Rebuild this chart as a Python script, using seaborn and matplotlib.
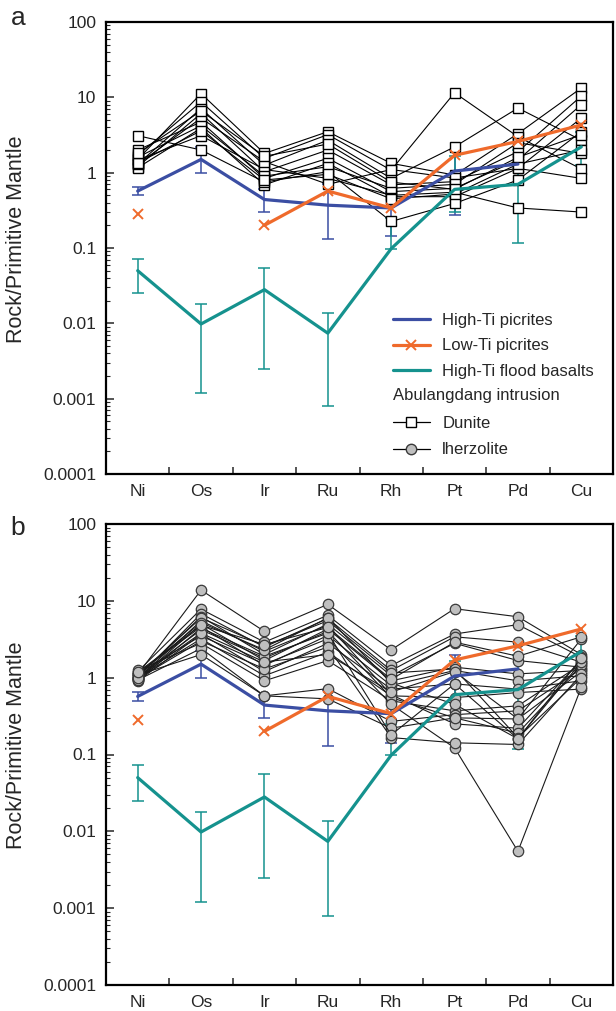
import numpy as np
import pandas as pd
import matplotlib
matplotlib.use("Agg")
import matplotlib.pyplot as plt
import seaborn as sns
from matplotlib.lines import Line2D
from matplotlib.ticker import LogLocator, NullFormatter

nan = np.nan

# ---------------- data ----------------
elements = ["Ni", "Os", "Ir", "Ru", "Rh", "Pt", "Pd", "Cu"]
ytick_values = [1e-4, 1e-3, 1e-2, 1e-1, 1, 10, 100]
ytick_labels = ["0.0001", "0.001", "0.01", "0.1", "1", "10", "100"]

high_ti_picrites = [0.57, 1.5, 0.44, 0.37, 0.34, 1.05, 1.3, nan]
high_ti_picrites_lo = [0.50, 0.98, 0.30, 0.13, 0.143, 0.276, nan, nan]
high_ti_picrites_hi = [0.65, 2.2, 0.60, 0.70, 0.55, 2.0, nan, nan]

low_ti_picrites = [0.28, nan, 0.20, 0.57, 0.34, 1.7, 2.6, 4.3]

flood_basalts = [0.05, 0.0098, 0.028, 0.0074, 0.098, 0.60, 0.70, 2.2]
flood_basalts_lo = [0.025, 0.0012, 0.0025, 0.0008, 0.098, 0.30, 0.118, 1.25]
flood_basalts_hi = [0.072, 0.018, 0.055, 0.0138, 0.25, 1.65, 2.0, 3.5]

# Abulangdang dunite samples (Ni, Os, Ir, Ru, Rh, Pt, Pd, Cu)
dunite = [
    [1.50, 11.2, 1.80, 3.50, 1.33, 0.93, 3.30, 13.3],
    [1.70, 8.70, 1.55, 3.20, 1.08, 11.5, 3.00, 1.12],
    [1.30, 7.10, 1.26, 2.70, 0.84, 2.20, 7.20, 2.70],
    [1.20, 6.10, 1.03, 2.00, 0.69, 0.76, 1.90, 10.4],
    [2.00, 4.70, 0.84, 1.55, 0.56, 0.62, 1.47, 8.00],
    [1.16, 3.90, 0.69, 1.33, 0.48, 0.48, 1.14, 5.30],
    [3.10, 2.00, 0.75, 1.03, 0.225, 0.39, 0.80, 3.50],
    [1.47, 3.10, 1.10, 0.84, 0.50, 0.55, 0.34, 0.30],
    [1.29, 5.30, 1.40, 0.70, 1.10, 0.85, 1.14, 0.84],
    [1.60, 4.20, 0.90, 1.20, 0.62, 0.70, 2.50, 1.80],
    [1.35, 3.60, 0.80, 0.95, 0.45, 0.52, 1.30, 2.00],
    [1.80, 6.60, 1.65, 2.40, 0.75, 0.60, 1.60, 3.20],
]

# Abulangdang lherzolite samples (Ni, Os, Ir, Ru, Rh, Pt, Pd, Cu)
lherzolite = [
    [1.10, 13.8, 4.00, 9.00, 2.30, 7.90, 6.20, 2.00],
    [1.20, 7.80, 2.90, 6.50, 1.44, 3.70, 4.90, 1.85],
    [1.00, 6.80, 2.50, 5.90, 1.24, 3.40, 2.90, 1.59],
    [1.05, 6.20, 2.00, 5.00, 1.06, 2.80, 1.67, 1.37],
    [0.95, 5.00, 1.67, 4.30, 0.91, 1.37, 1.12, 1.24],
    [1.15, 4.60, 1.44, 3.55, 0.79, 1.24, 0.91, 1.06],
    [0.90, 3.70, 1.20, 2.80, 0.71, 0.83, 0.71, 0.91],
    [1.00, 3.20, 1.06, 2.15, 0.58, 0.55, 0.64, 0.71],
    [1.25, 2.80, 0.91, 1.67, 0.50, 0.37, 0.43, 1.50],
    [0.93, 2.40, 0.58, 0.72, 0.27, 0.33, 0.37, 1.30],
    [1.08, 2.00, 0.58, 0.53, 0.22, 0.30, 0.29, 1.20],
    [0.98, 5.50, 2.20, 4.80, 0.60, 0.25, 0.22, 1.70],
    [1.02, 4.20, 1.80, 4.00, 0.55, 0.30, 0.19, 1.45],
    [1.12, 3.50, 1.50, 3.20, 0.45, 0.122, 0.0055, 0.75],
    [0.97, 3.00, 1.30, 2.50, 0.166, 0.142, 0.135, 1.10],
    [1.06, 6.00, 2.60, 5.50, 1.15, 1.30, 0.166, 1.00],
    [0.92, 4.40, 1.90, 3.80, 0.18, 0.83, 0.16, 1.60],
    [1.10, 5.20, 2.30, 6.00, 0.85, 0.45, 0.16, 1.80],
    [1.00, 3.80, 1.60, 2.00, 0.65, 1.20, 0.29, 3.20],
    [1.18, 4.80, 2.70, 4.50, 0.95, 2.90, 1.90, 3.40],
]

# ---------------- style ----------------
BLUE = "#3b4ea3"
ORANGE = "#ef6a2b"
TEAL = "#15928e"

sns.set_style("ticks")
plt.rcParams["font.family"] = ["Liberation Sans", "DejaVu Sans"]

pos = np.arange(len(elements))


def long_df(samples):
    rows = []
    for i, vals in enumerate(samples):
        for j, v in enumerate(vals):
            rows.append({"sample": i, "pos": pos[j], "value": v})
    return pd.DataFrame(rows)


def draw_errbars(ax, mean, lo, hi, color):
    mean = np.asarray(mean, float)
    lo = np.asarray(lo, float)
    hi = np.asarray(hi, float)
    m = np.isfinite(mean) & np.isfinite(lo) & np.isfinite(hi)
    ax.errorbar(pos[m], mean[m], yerr=[mean[m] - lo[m], hi[m] - mean[m]],
                fmt="none", ecolor=color, elinewidth=1.1, capsize=4.5,
                capthick=1.1, zorder=1)


def draw_panel(ax, samples, kind):
    draw_errbars(ax, high_ti_picrites, high_ti_picrites_lo, high_ti_picrites_hi, BLUE)
    draw_errbars(ax, flood_basalts, flood_basalts_lo, flood_basalts_hi, TEAL)

    df = long_df(samples)
    if kind == "dunite":
        sns.lineplot(data=df, x="pos", y="value", units="sample", estimator=None,
                     color="black", lw=0.8, marker="s", markersize=7.5,
                     markerfacecolor="white", markeredgecolor="black",
                     markeredgewidth=1.0, legend=False, ax=ax, zorder=2)
    else:
        sns.lineplot(data=df, x="pos", y="value", units="sample", estimator=None,
                     color="#1a1a1a", lw=0.8, marker="o", markersize=7.5,
                     markerfacecolor="#bfbfbf", markeredgecolor="#3a3a3a",
                     markeredgewidth=0.9, legend=False, ax=ax, zorder=2)

    ax.plot(pos, high_ti_picrites, color=BLUE, lw=2.3, zorder=4)
    ax.plot(pos, low_ti_picrites, color=ORANGE, lw=2.3, marker="x",
            markersize=7, markeredgewidth=1.4, zorder=4)
    ax.plot(pos, flood_basalts, color=TEAL, lw=2.3, zorder=4)

    ax.set_yscale("log")
    ax.set_ylim(1e-4, 100)
    ax.set_xlim(-0.5, len(elements) - 0.5)
    ax.set_yticks(ytick_values)
    ax.set_yticklabels(ytick_labels)
    ax.yaxis.set_minor_locator(LogLocator(base=10, subs=np.arange(2, 10), numticks=20))
    ax.yaxis.set_minor_formatter(NullFormatter())
    ax.set_xticks(pos)
    ax.set_xticklabels(elements)
    ax.set_xticks(pos[:-1] + 0.5, minor=True)
    ax.tick_params(axis="x", which="major", length=0, pad=7, labelsize=12.5)
    ax.tick_params(axis="x", which="minor", direction="in", length=5, width=1.1,
                   bottom=True, top=False)
    ax.tick_params(axis="y", which="major", direction="in", length=6, width=1.1,
                   pad=7, labelsize=12.5, left=True, right=False)
    ax.tick_params(axis="y", which="minor", direction="in", length=3, width=0.8,
                   left=True, right=False)
    for s in ax.spines.values():
        s.set_visible(True)
        s.set_linewidth(1.6)
        s.set_color("black")
    ax.set_xlabel("")
    ax.set_ylabel("Rock/Primitive Mantle", fontsize=15.5)
    ax.yaxis.set_label_coords(-0.155, 0.52)


fig = plt.figure(figsize=(6.16, 10.11), dpi=100)
ax_a = fig.add_axes([106 / 616, 1 - 474 / 1011, 507 / 616, 452 / 1011])
ax_b = fig.add_axes([106 / 616, 1 - 985 / 1011, 507 / 616, 461 / 1011])

draw_panel(ax_a, dunite, "dunite")
draw_panel(ax_b, lherzolite, "lherzolite")

# legend (panel a): mean lines
handles1 = [
    Line2D([], [], color=BLUE, lw=2.3),
    Line2D([], [], color=ORANGE, lw=2.3, marker="x", markersize=7, markeredgewidth=1.4),
    Line2D([], [], color=TEAL, lw=2.3),
]
labels1 = ["High-Ti picrites", "Low-Ti picrites", "High-Ti flood basalts"]
leg1 = ax_a.legend(handles1, labels1, loc="upper left", bbox_to_anchor=(0.566, 0.356),
                   frameon=False, fontsize=12, handlelength=2.2, handletextpad=0.75,
                   labelspacing=0.62, borderpad=0, borderaxespad=0)
ax_a.add_artist(leg1)

# legend (panel a): intrusion samples
handles2 = [
    Line2D([], [], color="black", lw=0.9, marker="s", markersize=7.5,
           markerfacecolor="white", markeredgecolor="black"),
    Line2D([], [], color="black", lw=0.9, marker="o", markersize=7.5,
           markerfacecolor="#bfbfbf", markeredgecolor="#3a3a3a"),
]
labels2 = ["Dunite", "lherzolite"]
ax_a.legend(handles2, labels2, loc="upper left", bbox_to_anchor=(0.566, 0.128),
            frameon=False, fontsize=12, handlelength=2.2, handletextpad=0.75,
            labelspacing=0.68, borderpad=0, borderaxespad=0)
ax_a.text(0.566, 0.1726, "Abulangdang intrusion", transform=ax_a.transAxes,
          ha="left", va="center", fontsize=12)

fig.text(18 / 616, 1 - 18 / 1011, "a", fontsize=19, ha="center", va="center")
fig.text(18 / 616, 1 - 528 / 1011, "b", fontsize=19, ha="center", va="center")

fig.savefig("out.png", dpi=100)
